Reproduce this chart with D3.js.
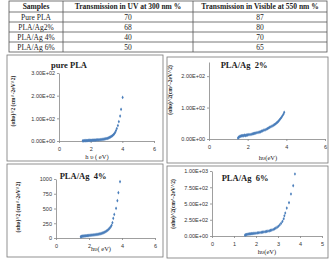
<!DOCTYPE html>
<html>
<head>
<meta charset="utf-8">
<script src="https://cdn.jsdelivr.net/npm/d3@7"></script>
<style>
  body { margin: 0; background: #fff; }
  svg { display: block; }
</style>
</head>
<body>
<div id="chart"></div>
<script>
// table data
const headers = ["Samples", "Transmission in UV at 300 nm %", "Transmission in Visible at 550 nm %"];
const samples = ["Pure PLA", "PLA/Ag2%", "PLA/Ag 4%", "PLA/Ag 6%"];
const uv300 = [70, 68, 40, 50];
const vis550 = [87, 80, 70, 65];

// (αhυ)^2 vs hυ: [eV, value]
const purePLA = [[1.50,1],[1.55,1],[1.60,1.5],[1.65,1.5],[1.70,2],[1.75,2],[1.80,2],[1.85,2.5],[1.90,2.5],[1.95,3],[2.00,3],[2.06,3],[2.12,3.5],[2.18,3.5],[2.24,4],[2.30,4],[2.36,4.5],[2.42,5],[2.48,5],[2.54,5.5],[2.60,6],[2.66,6.5],[2.72,7],[2.78,7.5],[2.84,8],[2.90,9],[2.96,10],[3.02,11],[3.08,12],[3.14,14],[3.20,16],[3.26,18],[3.32,21],[3.38,24],[3.44,28],[3.50,33],[3.55,39],[3.60,46],[3.65,55],[3.72,68],[3.78,85],[3.86,110],[3.92,140],[4.02,192]];
const ag2 = [[1.50,3],[1.53,5],[1.56,7],[1.60,8],[1.64,9],[1.68,10],[1.72,11],[1.76,10],[1.80,11],[1.84,12],[1.88,11],[1.92,12],[1.96,12],[2.00,13],[2.06,14],[2.12,14],[2.18,15],[2.24,16],[2.30,17],[2.36,18],[2.42,19],[2.48,20],[2.54,21],[2.60,22],[2.66,23],[2.72,25],[2.78,26],[2.84,28],[2.90,29],[2.96,31],[3.02,33],[3.08,35],[3.14,37],[3.20,39],[3.26,41],[3.32,43],[3.38,46],[3.44,48],[3.50,51],[3.55,54],[3.60,57],[3.65,61],[3.70,65],[3.75,69],[3.80,74],[3.85,79],[3.89,85]];
const ag4 = [[1.50,20],[1.53,24],[1.56,27],[1.60,30],[1.65,32],[1.70,34],[1.75,35],[1.80,37],[1.85,38],[1.90,40],[1.95,41],[2.00,43],[2.06,45],[2.12,47],[2.18,49],[2.24,51],[2.30,53],[2.36,55],[2.42,58],[2.48,60],[2.54,63],[2.60,66],[2.66,70],[2.72,74],[2.78,79],[2.84,85],[2.90,92],[2.96,100],[3.02,110],[3.08,121],[3.14,134],[3.20,150],[3.26,168],[3.32,190],[3.37,215],[3.42,260],[3.47,333],[3.53,400],[3.64,503],[3.72,632],[3.78,768],[3.88,954]];
const ag6 = [[1.50,12],[1.53,18],[1.56,22],[1.60,26],[1.65,29],[1.70,32],[1.75,34],[1.80,36],[1.85,38],[1.90,40],[1.95,42],[2.00,44],[2.06,47],[2.12,50],[2.18,53],[2.24,56],[2.30,59],[2.36,62],[2.42,66],[2.48,70],[2.54,74],[2.60,79],[2.66,85],[2.72,92],[2.78,100],[2.84,110],[2.90,121],[2.96,135],[3.02,150],[3.08,170],[3.14,195],[3.20,225],[3.26,265],[3.29,310],[3.33,354],[3.40,430],[3.50,512],[3.59,646],[3.69,774],[3.77,954]];

const width = 331, height = 259;
const blue = "#4a7ebb";
const axisGray = "#868686";

const svg = d3.select("#chart").append("svg")
    .attr("width", width)
    .attr("height", height);

// ---- table ----
const colX = [9, 63, 193, 327];
const rowY = [1, 12, 22, 32, 42, 52];
const tbl = svg.append("g");

tbl.append("rect")
    .attr("x", colX[0]).attr("y", rowY[0])
    .attr("width", colX[3] - colX[0]).attr("height", rowY[5] - rowY[0])
    .attr("fill", "none").attr("stroke", "#555").attr("stroke-width", 0.8);
rowY.slice(1, 5).forEach(y => tbl.append("line")
    .attr("x1", colX[0]).attr("x2", colX[3]).attr("y1", y).attr("y2", y)
    .attr("stroke", "#555").attr("stroke-width", 0.8));
colX.slice(1, 3).forEach(x => tbl.append("line")
    .attr("x1", x).attr("x2", x).attr("y1", rowY[0]).attr("y2", rowY[5])
    .attr("stroke", "#555").attr("stroke-width", 0.8));

const rows = [headers].concat(samples.map((s, i) => [s, uv300[i], vis550[i]]));
rows.forEach((r, ri) => {
  r.forEach((v, ci) => {
    tbl.append("text")
        .attr("x", (colX[ci] + colX[ci + 1]) / 2)
        .attr("y", (rowY[ri] + rowY[ri + 1]) / 2 + 2.6)
        .attr("text-anchor", "middle")
        .attr("font-family", "Liberation Serif, Times New Roman, serif")
        .attr("font-size", 7.5)
        .attr("font-weight", ri === 0 ? "bold" : "normal")
        .attr("fill", "#222")
        .text(v);
  });
});

// ---- charts ----
function sci(v) {
  const [m, e] = v.toExponential(2).toUpperCase().split("E");
  const n = Math.abs(+e);
  return m + "E" + (+e < 0 ? "-" : "+") + (n < 10 ? "0" + n : n);
}

const panels = [
  { title: "pure PLA", data: purePLA, box: [7, 55, 156, 106],
    xr: [59, 154], yr: [141, 73], xd: [0, 6], yd: [0, 300],
    xt: [0, 2, 4, 6], yt: [0, 100, 200, 300], fmt: sci,
    tp: [69, 68], yl: "(αhυ)^2 (cm^-2eV^2)", ylp: [13, 101],
    xl: "h υ ( eV)", xlp: [97, 159] },
  { title: "PLA/Ag  2%", data: ag2, box: [167, 57, 161, 106],
    xr: [209, 325], yr: [139, 62], xd: [0, 6], yd: [0, 245],
    xt: [0, 2, 4, 6], yt: [0, 100, 200], fmt: sci,
    tp: [244, 68], yl: "(αhυ)^2(cm^-2eV^2)", ylp: [170, 90],
    xl: "hυ(eV)", xlp: [268, 160] },
  { title: "PLA/Ag  4%", data: ag4, box: [7, 164, 156, 93],
    xr: [56, 155], yr: [238, 179], xd: [0, 6], yd: [0, 1000],
    xt: [0, 2, 4, 6], yt: [0, 250, 500, 750, 1000], fmt: d3.format("d"),
    tp: [83, 179], yl: "(αhυ)^2 (cm^-2eV^2)", ylp: [18, 207],
    xl: "hυ( eV)", xlp: [101, 251] },
  { title: "PLA/Ag  6%", data: ag6, box: [167, 166, 161, 92],
    xr: [212, 322], yr: [236, 171], xd: [0, 5], yd: [0, 1000],
    xt: [0, 1, 2, 3, 4, 5], yt: [0, 250, 500, 750, 1000], fmt: sci,
    tp: [245, 181], yl: "(αhυ)^2(cm^-2eV^2)", ylp: [173, 204],
    xl: "hυ(eV)", xlp: [267, 254] }
];

const diamond = d3.symbol().type(d3.symbolDiamond).size(4);

panels.forEach(p => {
  const g = svg.append("g");

  g.append("rect")
      .attr("x", p.box[0]).attr("y", p.box[1])
      .attr("width", p.box[2]).attr("height", p.box[3])
      .attr("fill", "#fff").attr("stroke", "#777").attr("stroke-width", 0.8);

  const x = d3.scaleLinear().domain(p.xd).range(p.xr);
  const y = d3.scaleLinear().domain(p.yd).range(p.yr);

  const yAxis = g.append("g")
      .attr("transform", `translate(${p.xr[0]},0)`)
      .call(d3.axisLeft(y).tickValues(p.yt).tickFormat(p.fmt).tickSize(2).tickPadding(2).tickSizeOuter(0));
  const xAxis = g.append("g")
      .attr("transform", `translate(0,${p.yr[0]})`)
      .call(d3.axisBottom(x).tickValues(p.xt).tickFormat(d3.format("d")).tickSize(2).tickPadding(4).tickSizeOuter(0));

  [xAxis, yAxis].forEach(a => {
    a.select(".domain").attr("stroke", axisGray).attr("stroke-width", 0.8);
    a.selectAll(".tick line").attr("stroke", axisGray).attr("stroke-width", 0.8);
    a.selectAll(".tick text")
        .attr("font-family", "Liberation Sans, Arial, sans-serif")
        .attr("font-size", 5.5)
        .attr("fill", "#333");
  });

  g.append("g").selectAll("path")
      .data(p.data)
      .join("path")
      .attr("transform", d => `translate(${x(d[0])},${y(d[1])})`)
      .attr("d", diamond)
      .attr("fill", blue);

  g.append("text")
      .attr("x", p.tp[0]).attr("y", p.tp[1])
      .attr("text-anchor", "middle")
      .attr("font-family", "Liberation Serif, Times New Roman, serif")
      .attr("font-weight", "bold")
      .attr("font-size", 8.5)
      .attr("fill", "#222")
      .style("white-space", "pre")
      .text(p.title);

  g.append("text")
      .attr("transform", `translate(${p.ylp[0]},${p.ylp[1]}) rotate(-90)`)
      .attr("text-anchor", "middle")
      .attr("dy", "0.35em")
      .attr("font-family", "Liberation Serif, Times New Roman, serif")
      .attr("font-weight", "bold")
      .attr("font-size", 5.5)
      .attr("fill", "#222")
      .text(p.yl);

  g.append("text")
      .attr("x", p.xlp[0]).attr("y", p.xlp[1])
      .attr("text-anchor", "middle")
      .attr("font-family", "Liberation Serif, Times New Roman, serif")
      .attr("font-size", 6.5)
      .attr("fill", "#222")
      .text(p.xl);
});
</script>
</body>
</html>
